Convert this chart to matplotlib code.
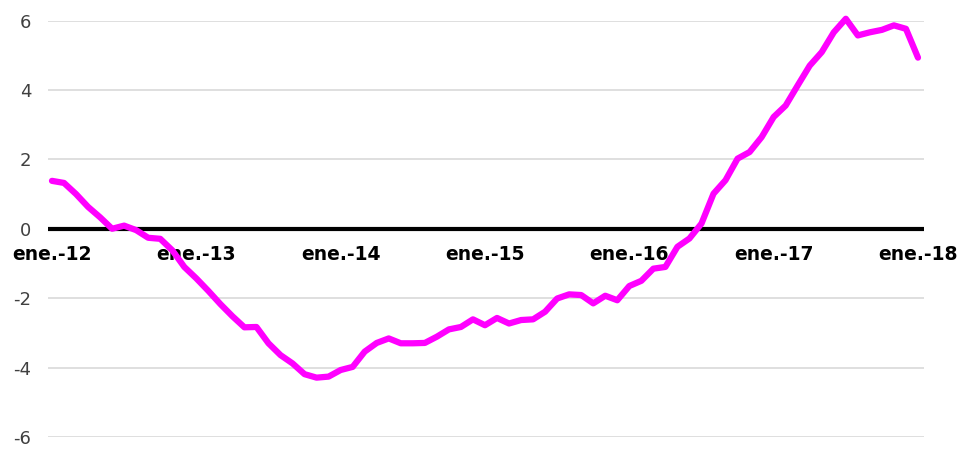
import matplotlib
matplotlib.use("Agg")
import matplotlib.pyplot as plt

# Monthly values, ene.-12 .. ene.-18
values = [1.38, 1.32, 1.00, 0.63, 0.33, 0.00, 0.09, -0.04, -0.26, -0.29, -0.62, -1.10,
          -1.43, -1.79, -2.17, -2.52, -2.84, -2.83, -3.30, -3.64, -3.88, -4.19, -4.29, -4.26,
          -4.07, -3.98, -3.54, -3.29, -3.16, -3.30, -3.30, -3.29, -3.11, -2.90, -2.83, -2.61,
          -2.78, -2.57, -2.73, -2.63, -2.61, -2.39, -2.01, -1.89, -1.91, -2.15, -1.93, -2.06,
          -1.65, -1.50, -1.15, -1.10, -0.52, -0.28, 0.15, 1.01, 1.40, 2.02, 2.21, 2.64,
          3.22, 3.55, 4.13, 4.70, 5.09, 5.66, 6.05, 5.57, 5.66, 5.73, 5.86, 5.76,
          4.93]
months = list(range(len(values)))
tick_positions = [0, 12, 24, 36, 48, 60, 72]
tick_labels = ["ene.-12", "ene.-13", "ene.-14", "ene.-15", "ene.-16", "ene.-17", "ene.-18"]
y_ticks = [-6, -4, -2, 0, 2, 4, 6]

fig = plt.figure(figsize=(9.67, 4.5), dpi=100)
ax = fig.add_axes([48 / 967, 1 - 437 / 450, (924 - 48) / 967, (437 - 20.5) / 450])

ax.spines["bottom"].set_position(("data", 0))
for s in ax.spines.values():
    s.set_visible(False)

ax.set_xlim(-0.33, 72.5)
ax.set_ylim(-6, 6)

ax.set_yticks(y_ticks)
ax.set_yticklabels([str(v) for v in y_ticks])
ax.grid(axis="y", color="#d9d9d9", linewidth=1.2)
ax.set_axisbelow(True)

ax.axhline(0, color="black", linewidth=3.0, zorder=2)
ax.plot(months, values, color="#ff00ff", linewidth=4.5, solid_capstyle="round",
        solid_joinstyle="round", zorder=3, clip_on=False)

ax.set_xticks(tick_positions)
ax.set_xticklabels(tick_labels, fontsize=13.5, fontweight="bold", color="black")
ax.tick_params(axis="x", length=0, pad=12)
ax.tick_params(axis="y", length=0, pad=12, labelsize=13, labelcolor="#404040")

fig.savefig("out.png", dpi=100)
